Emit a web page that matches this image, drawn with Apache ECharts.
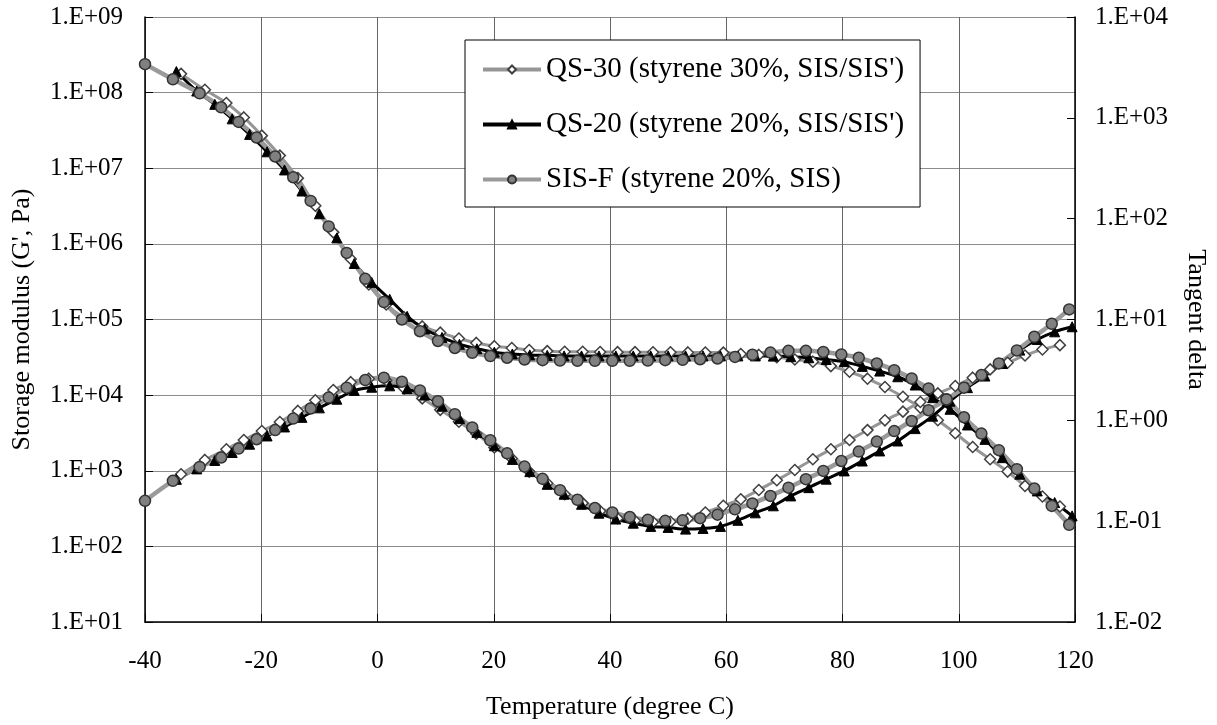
<!DOCTYPE html>
<html>
<head>
<meta http-equiv="Content-Type" content="text/html;charset=utf-8">
<title>DMA</title>
<style type="text/css">
html,body{
	margin: 0;
	padding: 0;
	background-color: #fff;
}
#main {
	width: 1217px;
	height: 725px;
}
</style>
</head>
<body>
<div id="main"></div>
<script src="https://cdn.jsdelivr.net/npm/echarts@6/dist/echarts.min.js"></script>
<script type="text/javascript">
// QS-30 (styrene 30%, SIS/SIS')
var qs30T = [-33.8, -29.7, -26.0, -23.0, -19.9, -16.8, -13.7, -10.7, -7.6, -4.6,
	-1.5, 1.5, 4.6, 7.7, 10.8, 14.0, 17.0, 20.1, 23.1, 26.1,
	29.2, 32.2, 35.3, 38.3, 41.3, 44.3, 47.4, 50.4, 53.4, 56.4,
	59.5, 62.5, 65.6, 68.7, 71.8, 74.9, 78.0, 81.2, 84.3, 87.3,
	90.4, 93.4, 96.4, 99.4, 102.4, 105.4, 108.4, 111.4, 114.4, 117.4];
var qs30G = [1.77e8, 1.09e8, 7.3e7, 4.7e7, 2.7e7, 1.47e7, 7.4e6, 3.2e6, 1.42e6, 6.3e5,
	2.9e5, 1.58e5, 1.06e5, 8.1e4, 6.7e4, 5.6e4, 4.9e4, 4.44e4, 4.2e4, 3.94e4,
	3.82e4, 3.75e4, 3.75e4, 3.72e4, 3.7e4, 3.7e4, 3.68e4, 3.68e4, 3.67e4, 3.66e4,
	3.65e4, 3.5e4, 3.4e4, 3.18e4, 2.96e4, 2.77e4, 2.42e4, 2.04e4, 1.65e4, 1.28e4,
	9.5e3, 6.8e3, 4.65e3, 3.13e3, 2.06e3, 1.42e3, 975, 630, 456, 337];
var qs30Tan = [0.292, 0.405, 0.516, 0.638, 0.784, 0.962, 1.24, 1.58, 2.0, 2.39,
	2.59, 2.49, 2.07, 1.65, 1.27, 0.97, 0.738, 0.537, 0.418, 0.31,
	0.238, 0.185, 0.151, 0.126, 0.107, 0.101, 0.098, 0.0985, 0.106, 0.122,
	0.142, 0.165, 0.204, 0.255, 0.322, 0.411, 0.516, 0.638, 0.80, 1.0,
	1.22, 1.52, 1.85, 2.19, 2.65, 3.2, 3.73, 4.4, 5.05, 5.57];

// QS-20 (styrene 20%, SIS/SIS')
var qs20T = [-34.6, -31.1, -28.0, -25.0, -22.0, -19.0, -16.0, -13.0, -10.0, -7.0,
	-4.0, -1.0, 2.1, 5.1, 8.1, 11.1, 14.1, 17.1, 20.1, 23.2,
	26.2, 29.2, 32.1, 35.1, 38.1, 41.0, 44.0, 47.0, 50.0, 53.0,
	56.0, 59.0, 62.0, 65.0, 68.1, 71.1, 74.2, 77.2, 80.3, 83.4,
	86.4, 89.5, 92.5, 95.5, 98.5, 101.5, 104.5, 107.5, 110.5, 113.5,
	116.5, 119.5];
var qs20G = [1.9e8, 1.05e8, 7.0e7, 4.5e7, 2.8e7, 1.65e7, 9.5e6, 5.0e6, 2.5e6, 1.2e6,
	5.5e5, 3.1e5, 1.85e5, 1.1e5, 7.5e4, 5.8e4, 4.7e4, 4.1e4, 3.7e4, 3.5e4,
	3.4e4, 3.35e4, 3.3e4, 3.3e4, 3.3e4, 3.3e4, 3.3e4, 3.3e4, 3.3e4, 3.3e4,
	3.3e4, 3.3e4, 3.3e4, 3.3e4, 3.28e4, 3.22e4, 3.12e4, 2.96e4, 2.77e4, 2.4e4,
	2.08e4, 1.75e4, 1.36e4, 9.25e3, 6.5e3, 4.03e3, 2.6e3, 1.49e3, 900, 541,
	380, 253];
var qs20Tan = [0.26, 0.33, 0.40, 0.48, 0.58, 0.70, 0.86, 1.07, 1.33, 1.62,
	1.98, 2.13, 2.2, 2.05, 1.78, 1.38, 1.04, 0.76, 0.56, 0.41,
	0.31, 0.232, 0.185, 0.147, 0.12, 0.105, 0.0955, 0.0887, 0.0867, 0.0834,
	0.0847, 0.0887, 0.102, 0.121, 0.142, 0.178, 0.215, 0.261, 0.315, 0.395,
	0.497, 0.624, 0.828, 1.10, 1.55, 2.11, 2.75, 3.66, 4.97, 6.34,
	7.55, 8.47];

// SIS-F (styrene 20%, SIS)
var sisT = [-40, -35.2, -30.6, -26.9, -23.9, -20.8, -17.6, -14.5, -11.5, -8.4,
	-5.3, -2.1, 1.1, 4.2, 7.3, 10.4, 13.3, 16.3, 19.4, 22.3,
	25.3, 28.4, 31.4, 34.4, 37.4, 40.4, 43.4, 46.5, 49.5, 52.5,
	55.5, 58.5, 61.5, 64.5, 67.6, 70.7, 73.7, 76.7, 79.8, 82.8,
	85.9, 88.9, 91.9, 94.8, 97.9, 100.9, 103.9, 106.9, 110.0, 113.0,
	116.0, 119.0];
var sisG = [2.38e8, 1.5e8, 9.8e7, 6.4e7, 4.1e7, 2.55e7, 1.43e7, 7.6e6, 3.7e6, 1.7e6,
	7.6e5, 3.45e5, 1.7e5, 1.0e5, 7.0e4, 5.2e4, 4.2e4, 3.63e4, 3.28e4, 3.12e4,
	2.96e4, 2.9e4, 2.86e4, 2.84e4, 2.84e4, 2.84e4, 2.84e4, 2.86e4, 2.9e4, 2.93e4,
	2.98e4, 3.05e4, 3.2e4, 3.42e4, 3.65e4, 3.85e4, 3.85e4, 3.72e4, 3.45e4, 3.12e4,
	2.62e4, 2.14e4, 1.66e4, 1.22e4, 8.8e3, 5.1e3, 3.1e3, 1.87e3, 1.05e3, 582,
	343, 193];
var sisTan = [0.159, 0.251, 0.345, 0.428, 0.525, 0.649, 0.80, 1.04, 1.31, 1.68,
	2.11, 2.51, 2.65, 2.42, 1.98, 1.55, 1.15, 0.85, 0.634, 0.471,
	0.348, 0.263, 0.203, 0.163, 0.135, 0.122, 0.110, 0.103, 0.1007, 0.102,
	0.107, 0.116, 0.131, 0.150, 0.178, 0.215, 0.261, 0.315, 0.395, 0.49,
	0.615, 0.783, 0.984, 1.26, 1.61, 2.11, 2.81, 3.67, 4.93, 6.74,
	9.07, 12.6];

var names = ["QS-30 (styrene 30%, SIS/SIS')", "QS-20 (styrene 20%, SIS/SIS')", 'SIS-F (styrene 20%, SIS)'];
var xTicks = [-40, -20, 0, 20, 40, 60, 80, 100, 120];

var FONT = '"Liberation Serif", "Times New Roman", serif';

function pairs(t, v) {
	var d = [];
	for (var i = 0; i < t.length; i++) {
		d.push([t[i], v[i]]);
	}
	return d;
}

// 1.E+09 style labels
function expLabel(v) {
	var e = Math.round(Math.log(v) / Math.LN10);
	var a = Math.abs(e);
	return '1.E' + (e < 0 ? '-' : '+') + (a < 10 ? '0' : '') + a;
}

// one style block per sample
var styles = [
	{
		symbol: 'diamond', symbolSize: 11,
		lineStyle: {color: '#969696', width: 3},
		itemStyle: {color: '#ffffff', borderColor: '#404040', borderWidth: 1.5}
	},
	{
		symbol: 'triangle', symbolSize: 10,
		lineStyle: {color: '#000000', width: 3},
		itemStyle: {color: '#000000', borderColor: '#000000', borderWidth: 1}
	},
	{
		symbol: 'circle', symbolSize: 11,
		lineStyle: {color: '#9a9a9a', width: 4.5},
		itemStyle: {color: '#808080', borderColor: '#333333', borderWidth: 1.5}
	}
];

function makeSeries(idx, data, yIndex) {
	var s = styles[idx];
	return {
		name: names[idx],
		type: 'line',
		yAxisIndex: yIndex,
		smooth: 0.3,
		showAllSymbol: true,
		symbol: s.symbol,
		symbolSize: s.symbolSize,
		lineStyle: s.lineStyle,
		itemStyle: s.itemStyle,
		emphasis: {disabled: true},
		data: data
	};
}

var option = {
	animation: false,
	backgroundColor: '#ffffff',
	textStyle: {fontFamily: FONT, color: '#000'},
	grid: {left: 145, right: 136, top: 17, bottom: 102, containLabel: false},
	legend: {
		orient: 'vertical',
		left: 465,
		top: 40,
		data: names,
		backgroundColor: '#ffffff',
		borderColor: '#000000',
		borderWidth: 1,
		padding: [15, 16, 13, 16],
		itemWidth: 58,
		itemHeight: 10,
		itemGap: 26,
		lineStyle: {width: 4},
		textStyle: {fontFamily: FONT, fontSize: 29, color: '#000'}
	},
	xAxis: {
		type: 'value',
		min: -40,
		max: 120,
		interval: 20,
		name: 'Temperature (degree C)',
		nameLocation: 'middle',
		nameGap: 72,
		nameTextStyle: {fontFamily: FONT, fontSize: 26, color: '#000'},
		axisLine: {onZero: false, lineStyle: {color: '#000', width: 1.5}},
		axisTick: {inside: true, length: 8, lineStyle: {color: '#000'}},
		axisLabel: {
			fontFamily: FONT, fontSize: 25, color: '#000', margin: 27,
			formatter: function (v) { return xTicks.indexOf(v) >= 0 ? String(v) : ''; }
		},
		splitLine: {show: true, lineStyle: {color: '#666', width: 1}}
	},
	yAxis: [
		{
			type: 'log',
			logBase: 10,
			min: 10,
			max: 1e9,
			splitNumber: 8,
			position: 'left',
			name: "Storage modulus (G', Pa)",
			nameLocation: 'middle',
			nameGap: 110,
			nameTextStyle: {fontFamily: FONT, fontSize: 26, color: '#000'},
			axisLine: {show: true, onZero: false, lineStyle: {color: '#000', width: 1.5}},
			axisTick: {show: true, inside: true, length: 8, lineStyle: {color: '#000'}},
			axisLabel: {fontFamily: FONT, fontSize: 25, color: '#000', margin: 22, formatter: expLabel},
			splitLine: {show: true, lineStyle: {color: '#8c8c8c', width: 1}}
		},
		{
			type: 'log',
			logBase: 10,
			min: 0.01,
			max: 1e4,
			splitNumber: 6,
			position: 'right',
			name: 'Tangent delta',
			nameLocation: 'middle',
			nameRotate: -90,
			nameGap: 108,
			nameTextStyle: {fontFamily: FONT, fontSize: 26, color: '#000'},
			axisLine: {show: true, onZero: false, lineStyle: {color: '#000', width: 1.5}},
			axisTick: {show: true, inside: true, length: 8, lineStyle: {color: '#000'}},
			axisLabel: {fontFamily: FONT, fontSize: 25, color: '#000', margin: 20, formatter: expLabel},
			splitLine: {show: false}
		}
	],
	series: [
		makeSeries(0, pairs(qs30T, qs30G), 0),
		makeSeries(0, pairs(qs30T, qs30Tan), 1),
		makeSeries(1, pairs(qs20T, qs20G), 0),
		makeSeries(1, pairs(qs20T, qs20Tan), 1),
		makeSeries(2, pairs(sisT, sisG), 0),
		makeSeries(2, pairs(sisT, sisTan), 1)
	]
};

var myChart = echarts.init(document.getElementById('main'));
myChart.setOption(option);
</script>
</body>
</html>
